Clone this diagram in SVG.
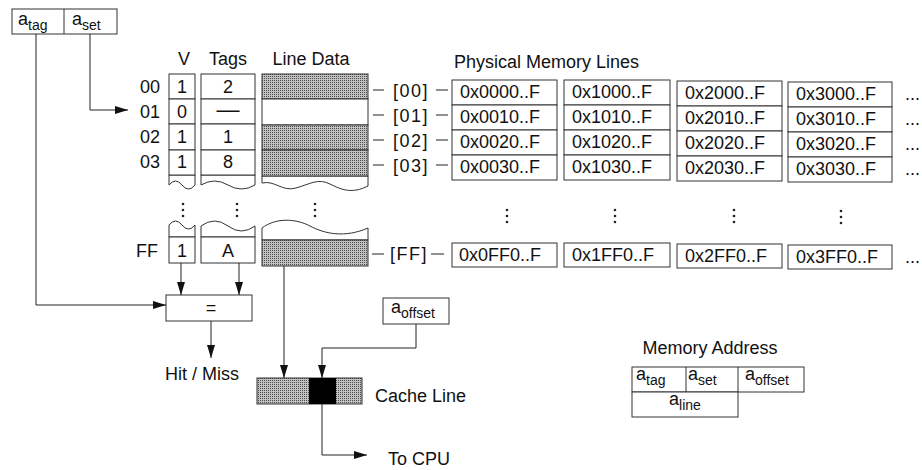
<svg xmlns="http://www.w3.org/2000/svg" width="922" height="470" viewBox="0 0 922 470">
<defs>
<pattern id="shade" width="2" height="2" patternUnits="userSpaceOnUse">
<rect width="2" height="2" fill="#c2c2c2"/>
<rect x="0" y="0" width="1" height="1" fill="#4a4a4a"/>
</pattern>
<marker id="ah" markerWidth="13" markerHeight="8" refX="13" refY="4" orient="auto" markerUnits="userSpaceOnUse">
<path d="M0,0 L13,4 L0,8 z" fill="#111"/>
</marker>
</defs>
<style>
text{font-family:"Liberation Sans",Arial,Helvetica,sans-serif;font-size:18px;fill:#111}
.sub{font-size:14px}
.c{text-anchor:middle}
.r{text-anchor:end}
.br{letter-spacing:1.5px}
.box{fill:#fff;stroke:#333;stroke-width:1}
.sh{fill:url(#shade);stroke:#333;stroke-width:1}
.ln{fill:none;stroke:#333;stroke-width:1}
.dot{fill:#222}
</style>
<rect width="922" height="470" fill="#fff"/>

<!-- address input a_tag | a_set -->
<g id="addr-in">
<rect class="box" x="12" y="9" width="105" height="25"/>
<line class="ln" x1="64" y1="9" x2="64" y2="34"/>
<text x="18" y="25">a<tspan class="sub" dy="5">tag</tspan></text>
<text x="72" y="25">a<tspan class="sub" dy="5">set</tspan></text>
</g>

<!-- headers -->
<g id="headers">
<text class="c" x="184" y="65">V</text>
<text class="c" x="228" y="65">Tags</text>
<text class="c" x="311" y="65">Line Data</text>
<text x="454" y="68">Physical Memory Lines</text>
</g>

<!-- row labels -->
<g id="row-labels">
<text class="r" x="160" y="93">00</text>
<text class="r" x="160" y="118">01</text>
<text class="r" x="160" y="143">02</text>
<text class="r" x="160" y="168">03</text>
<text class="r" x="158" y="257">FF</text>
</g>

<!-- V column -->
<g id="col-v">
<path class="box" d="M169,175 V185 Q175.5,177 182,185 T195,185 V175 Z"/>
<rect class="box" x="169" y="74" width="26" height="25"/>
<rect class="box" x="169" y="99" width="26" height="25"/>
<rect class="box" x="169" y="124" width="26" height="26"/>
<rect class="box" x="169" y="150" width="26" height="25"/>
<text class="c" x="182" y="93">1</text>
<text class="c" x="182" y="118">0</text>
<text class="c" x="182" y="143">1</text>
<text class="c" x="182" y="168">1</text>
<circle class="dot" cx="183" cy="204" r="1.3"/>
<circle class="dot" cx="183" cy="210" r="1.3"/>
<circle class="dot" cx="183" cy="216" r="1.3"/>
<path class="box" d="M169,237 V225 Q175.5,217 182,225 T195,225 V237 Z"/>
<rect class="box" x="169" y="237" width="26" height="26"/>
<text class="c" x="182" y="257">1</text>
</g>

<!-- Tags column -->
<g id="col-tags">
<path class="box" d="M201,175 V185 Q214.5,177 228,185 T255,185 V175 Z"/>
<rect class="box" x="201" y="74" width="54" height="25"/>
<rect class="box" x="201" y="99" width="54" height="25"/>
<rect class="box" x="201" y="124" width="54" height="26"/>
<rect class="box" x="201" y="150" width="54" height="25"/>
<text class="c" x="228" y="93">2</text>
<text class="c" x="228" y="117" style="font-size:23px">—</text>
<text class="c" x="228" y="143">1</text>
<text class="c" x="228" y="168">8</text>
<circle class="dot" cx="237" cy="204" r="1.3"/>
<circle class="dot" cx="237" cy="210" r="1.3"/>
<circle class="dot" cx="237" cy="216" r="1.3"/>
<path class="box" d="M201,237 V226 Q214.5,216 228,226 T255,226 V237 Z"/>
<rect class="box" x="201" y="237" width="54" height="26"/>
<text class="c" x="228" y="257">A</text>
</g>

<!-- Line Data column -->
<g id="col-data">
<path class="box" d="M262,176 V183 C275,180 282,192 296,188 S318,178 330,184 S352,194 368,186 V176 Z"/>
<rect class="sh" x="262" y="74" width="106" height="25"/>
<rect class="box" x="262" y="99" width="106" height="26"/>
<rect class="sh" x="262" y="125" width="106" height="25"/>
<rect class="sh" x="262" y="150" width="106" height="26"/>
<circle class="dot" cx="315" cy="204" r="1.3"/>
<circle class="dot" cx="315" cy="210" r="1.3"/>
<circle class="dot" cx="315" cy="216" r="1.3"/>
<path class="box" d="M262,240 V228 C275,218 295,218 310,226 S345,238 368,228 V240 Z"/>
<rect class="sh" x="262" y="240" width="106" height="26"/>
</g>

<!-- set index labels -->
<g id="set-index">
<text class="c br" x="411" y="97">[00]</text>
<text class="c br" x="411" y="122">[01]</text>
<text class="c br" x="411" y="147">[02]</text>
<text class="c br" x="411" y="172">[03]</text>
<text class="c br" x="409" y="260">[FF]</text>
</g>

<!-- memory columns -->
<g id="mem-col0">
<rect class="box" x="452" y="80" width="105" height="25"/>
<rect class="box" x="452" y="105" width="105" height="25"/>
<rect class="box" x="452" y="130" width="105" height="25"/>
<rect class="box" x="452" y="155" width="105" height="25"/>
<text x="460" y="98">0x0000..F</text>
<text x="460" y="123">0x0010..F</text>
<text x="460" y="148">0x0020..F</text>
<text x="460" y="173">0x0030..F</text>
<circle class="dot" cx="507" cy="210" r="1.3"/>
<circle class="dot" cx="507" cy="216" r="1.3"/>
<circle class="dot" cx="507" cy="222" r="1.3"/>
<rect class="box" x="452" y="243" width="105" height="24"/>
<text x="459" y="261">0x0FF0..F</text>
</g>
<g id="mem-col1">
<rect class="box" x="564" y="80" width="106" height="25"/>
<rect class="box" x="564" y="105" width="106" height="25"/>
<rect class="box" x="564" y="130" width="106" height="25"/>
<rect class="box" x="564" y="155" width="106" height="25"/>
<text x="572" y="98">0x1000..F</text>
<text x="572" y="123">0x1010..F</text>
<text x="572" y="148">0x1020..F</text>
<text x="572" y="173">0x1030..F</text>
<circle class="dot" cx="615" cy="210" r="1.3"/>
<circle class="dot" cx="615" cy="216" r="1.3"/>
<circle class="dot" cx="615" cy="222" r="1.3"/>
<rect class="box" x="564" y="243" width="106" height="24"/>
<text x="572" y="261">0x1FF0..F</text>
</g>
<g id="mem-col2">
<rect class="box" x="677" y="81" width="105" height="25"/>
<rect class="box" x="677" y="106" width="105" height="25"/>
<rect class="box" x="677" y="131" width="105" height="25"/>
<rect class="box" x="677" y="156" width="105" height="25"/>
<text x="685" y="99">0x2000..F</text>
<text x="685" y="124">0x2010..F</text>
<text x="685" y="149">0x2020..F</text>
<text x="685" y="174">0x2030..F</text>
<circle class="dot" cx="734" cy="210" r="1.3"/>
<circle class="dot" cx="734" cy="216" r="1.3"/>
<circle class="dot" cx="734" cy="222" r="1.3"/>
<rect class="box" x="677" y="244" width="105" height="24"/>
<text x="685" y="262">0x2FF0..F</text>
</g>
<g id="mem-col3">
<rect class="box" x="788" y="82" width="104" height="25"/>
<rect class="box" x="788" y="107" width="104" height="25"/>
<rect class="box" x="788" y="132" width="104" height="25"/>
<rect class="box" x="788" y="157" width="104" height="25"/>
<text x="796" y="100">0x3000..F</text>
<text x="796" y="125">0x3010..F</text>
<text x="796" y="150">0x3020..F</text>
<text x="796" y="175">0x3030..F</text>
<circle class="dot" cx="841" cy="211" r="1.3"/>
<circle class="dot" cx="841" cy="217" r="1.3"/>
<circle class="dot" cx="841" cy="223" r="1.3"/>
<rect class="box" x="788" y="245" width="104" height="24"/>
<text x="796" y="263">0x3FF0..F</text>
</g>
<g id="mem-more">
<text x="905" y="100">...</text>
<text x="905" y="125">...</text>
<text x="905" y="150">...</text>
<text x="905" y="175">...</text>
<text x="905" y="263">...</text>
</g>

<!-- comparator -->
<g id="compare">
<rect class="box" x="166" y="295" width="86" height="26"/>
<text class="c" x="211" y="314">=</text>
</g>
<g id="hit-miss">
<text x="165" y="380">Hit / Miss</text>
</g>

<!-- offset -->
<g id="offset">
<rect class="box" x="383" y="298" width="66" height="26"/>
<text x="391" y="313">a<tspan class="sub" dy="5">offset</tspan></text>
</g>

<!-- cache line -->
<g id="cache-line">
<rect class="sh" x="257" y="378" width="105" height="26"/>
<rect x="309" y="378" width="27" height="26" fill="#000"/>
<text x="375" y="402">Cache Line</text>
</g>
<g id="to-cpu">
<text x="388" y="465">To CPU</text>
</g>

<!-- memory address -->
<g id="mem-address">
<text class="c" x="710" y="354">Memory Address</text>
<rect class="box" x="632" y="367" width="172" height="25"/>
<rect class="box" x="632" y="392" width="106" height="25"/>
<line class="ln" x1="686" y1="367" x2="686" y2="392"/>
<line class="ln" x1="738" y1="367" x2="738" y2="392"/>
<text x="636" y="380">a<tspan class="sub" dy="5">tag</tspan></text>
<text x="688" y="380">a<tspan class="sub" dy="5">set</tspan></text>
<text x="745" y="380">a<tspan class="sub" dy="5">offset</tspan></text>
<text x="669" y="405">a<tspan class="sub" dy="5">line</tspan></text>
</g>

<!-- connectors -->
<g id="connectors" fill="none" stroke="#222" stroke-width="1">
<path d="M36,34 V305 H166" marker-end="url(#ah)"/>
<path d="M90,34 V110 H128" marker-end="url(#ah)"/>
<path d="M181,263 V295" marker-end="url(#ah)"/>
<path d="M239,263 V295" marker-end="url(#ah)"/>
<path d="M211,321 V358" marker-end="url(#ah)"/>
<path d="M284,266 V378" marker-end="url(#ah)"/>
<path d="M416,324 V348 H322 V378" marker-end="url(#ah)"/>
<path d="M322,404 V455 H367" marker-end="url(#ah)"/>
<path d="M373,90 H384 M436,90 H448"/>
<path d="M373,115 H384 M436,115 H448"/>
<path d="M373,140 H384 M436,140 H448"/>
<path d="M373,165 H384 M436,165 H448"/>
<path d="M372,254 H384 M431,254 H444"/>
</g>
</svg>
